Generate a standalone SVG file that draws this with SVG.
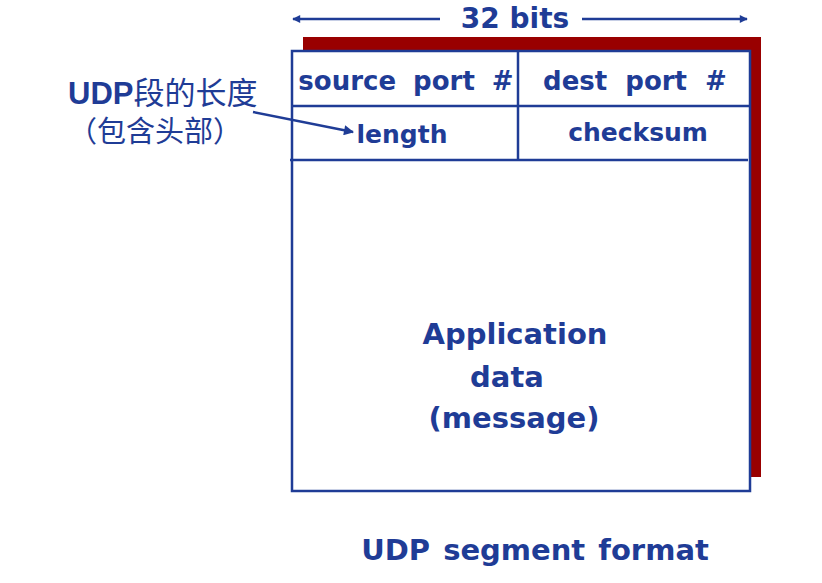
<svg xmlns="http://www.w3.org/2000/svg" width="822" height="583" viewBox="0 0 822 583">
<defs>
<style>
.t{font-family:"DejaVu Sans","Liberation Sans",sans-serif;font-weight:bold;fill:#1f3c96;text-anchor:middle}
.cn{font-family:"Liberation Sans","Noto Sans CJK SC",sans-serif;fill:#1f3c96}
.ln{stroke:#1f3c96;stroke-width:2.5;fill:none}
</style>
<marker id="ah" viewBox="0 0 10 10" refX="9" refY="5" markerWidth="10" markerHeight="8" orient="auto" markerUnits="userSpaceOnUse">
<path d="M0,0 L10,5 L0,10 z" fill="#1f3c96"/>
</marker>
<marker id="ah2" viewBox="0 0 10 10" refX="9" refY="5" markerWidth="12" markerHeight="10" orient="auto" markerUnits="userSpaceOnUse">
<path d="M0,0 L10,5 L0,10 z" fill="#1f3c96"/>
</marker>
</defs>
<rect width="822" height="583" fill="#fff"/>
<g id="segment">
<rect x="303" y="37" width="458" height="440" fill="#990000"/>
<rect x="292" y="51" width="458" height="440" style="fill:#fff;stroke:#1f3c96;stroke-width:2.5"/>
<line x1="292" y1="106" x2="750" y2="106" class="ln"/>
<line x1="290" y1="160" x2="748" y2="160" class="ln"/>
<line x1="518" y1="51" x2="518" y2="160" class="ln"/>
</g>
<g id="fields">
<text class="t" x="406" y="90" font-size="26" word-spacing="8">source port #</text>
<text class="t" x="635" y="90" font-size="26" word-spacing="9">dest port #</text>
<text class="t" x="402" y="143" font-size="25">length</text>
<text class="t" x="638" y="141" font-size="25">checksum</text>
<text class="t" x="515" y="344" font-size="29">Application</text>
<text class="t" x="507" y="387" font-size="29">data</text>
<text class="t" x="514" y="428" font-size="29">(message)</text>
</g>
<g id="title">
<text class="t" x="515" y="28" font-size="28">32 bits</text>
<text class="t" x="535" y="560" font-size="29" word-spacing="3">UDP segment format</text>
</g>
<g id="annotation">
<text class="cn" x="68" y="104" font-size="31" font-weight="bold">UDP<tspan font-weight="normal">段的长度</tspan></text>
<text class="cn" x="68" y="142" font-size="29">（包含头部）</text>
</g>
<g id="connectors">
<line x1="440" y1="19" x2="293" y2="19" class="ln" stroke-width="2" marker-end="url(#ah)"/>
<line x1="582" y1="19" x2="747" y2="19" class="ln" stroke-width="2" marker-end="url(#ah)"/>
<line x1="253" y1="112" x2="353" y2="132" class="ln" marker-end="url(#ah2)"/>
</g>
</svg>
